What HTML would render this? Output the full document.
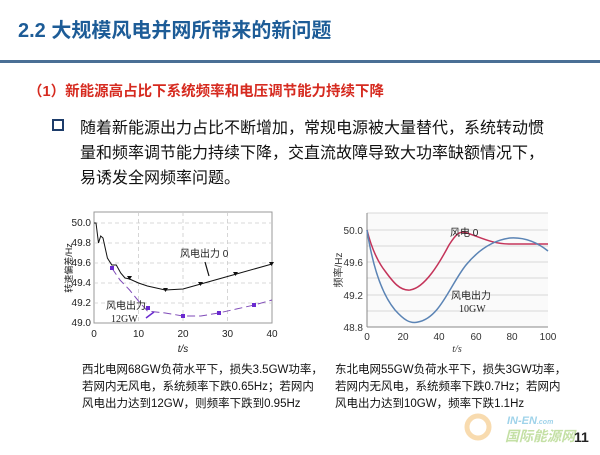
<!DOCTYPE html>
<html><head><meta charset="utf-8"><style>
body{margin:0;width:600px;height:450px;overflow:hidden;background:#fff;font-family:"Liberation Sans","Noto Sans CJK SC",sans-serif;}
svg text{font-family:"Liberation Sans","Noto Sans CJK SC",sans-serif;}
.s{font-family:"Liberation Serif","Noto Serif CJK SC",serif;}
</style></head><body>
<svg width="600" height="450" viewBox="0 0 600 450" xmlns="http://www.w3.org/2000/svg">
<text x="18" y="37" font-size="20" font-weight="bold" fill="#1d5c97">2.2 大规模风电并网所带来的新问题</text>
<rect x="0" y="60" width="600" height="3" fill="#4a6f95"/>
<text x="28" y="96" font-size="14.5" font-weight="bold" fill="#d62a1f">（1）新能源高占比下系统频率和电压调节能力持续下降</text>
<rect x="53" y="120" width="10" height="10" fill="none" stroke="#1d3c6a" stroke-width="2"/>
<g font-size="16" fill="#111">
<text x="80" y="133">随着新能源出力占比不断增加，常规电源被大量替代，系统转动惯</text>
<text x="80" y="158">量和频率调节能力持续下降，交直流故障导致大功率缺额情况下，</text>
<text x="80" y="183">易诱发全网频率问题。</text>
</g>
<!-- left chart -->
<rect x="94" y="212" width="178" height="111" fill="#fff" stroke="#999" stroke-width="1"/>
<g stroke="#ccc" stroke-dasharray="4,3" stroke-width="0.8">
<line x1="94" y1="243" x2="272" y2="243"/><line x1="94" y1="263" x2="272" y2="263"/><line x1="94" y1="283" x2="272" y2="283"/><line x1="94" y1="303" x2="272" y2="303"/><line x1="94" y1="223" x2="272" y2="223"/>
<line x1="138.5" y1="212" x2="138.5" y2="323"/><line x1="183" y1="212" x2="183" y2="323"/><line x1="227.5" y1="212" x2="227.5" y2="323"/>
</g>
<g class="s" font-size="10" fill="#222" text-anchor="end">
<text x="91" y="226">50.0</text><text x="91" y="246">49.8</text><text x="91" y="266">49.6</text><text x="91" y="286">49.4</text><text x="91" y="306">49.2</text><text x="91" y="326">49.0</text>
</g>
<g class="s" font-size="10" fill="#222" text-anchor="middle">
<text x="94" y="337">0</text><text x="138.5" y="337">10</text><text x="183" y="337">20</text><text x="227.5" y="337">30</text><text x="272" y="337">40</text>
<text x="183" y="352" font-style="italic">t/s</text>
</g>
<text transform="translate(72,268) rotate(-90)" font-size="9" fill="#222" text-anchor="middle">转速偏差/Hz</text>
<polyline fill="none" stroke="#111" stroke-width="1" points="94,223 96,223 98.5,243 100.7,236 103,238 107.4,258 111.8,265 116.3,265 120.7,273 125,278 129.6,279 138.5,283 147.4,286 165.2,290 183,289 200.8,284 236.4,274 272,264"/>
<g fill="#111"><path d="M127,276l5,0l-2.5,4z"/><path d="M163,288l5,0l-2.5,4z"/><path d="M198,282l5,0l-2.5,4z"/><path d="M233,272l5,0l-2.5,4z"/><path d="M269,262l5,0l-2.5,4z"/></g>
<polyline fill="none" stroke="#7f4ab8" stroke-width="1" stroke-dasharray="8,4" points="111.8,268 120,280 129.6,290 138.5,301 147.4,311 165.2,313 183,316 200.8,316 218.6,313 236.4,309 254.2,305 272,300"/>
<g fill="#6a2ad0"><rect x="110" y="266" width="4" height="4"/><rect x="146" y="306" width="4" height="4"/><rect x="181" y="314" width="4" height="4"/><rect x="217" y="311" width="4" height="4"/><rect x="252" y="303" width="4" height="4"/></g>
<text x="180" y="257" font-size="10" fill="#222">风电出力 0</text>
<line x1="205" y1="262" x2="209" y2="276" stroke="#111" stroke-width="1.2"/>
<text x="106" y="309" font-size="10" fill="#222">风电出力</text>
<text x="111" y="322" font-size="10" class="s" fill="#222">12GW</text>
<line x1="146" y1="318" x2="154" y2="312" stroke="#6a2ad0" stroke-width="1.5"/>
<!-- right chart -->
<rect x="367" y="213" width="181" height="114" fill="#fafafa"/>
<g stroke="#ccc" stroke-width="0.8">
<line x1="367" y1="230" x2="548" y2="230"/><line x1="367" y1="246" x2="548" y2="246"/><line x1="367" y1="262" x2="548" y2="262"/><line x1="367" y1="278" x2="548" y2="278"/><line x1="367" y1="295" x2="548" y2="295"/><line x1="367" y1="311" x2="548" y2="311"/><line x1="367" y1="213" x2="548" y2="213"/>
</g>
<line x1="367" y1="213" x2="367" y2="327" stroke="#888"/><line x1="367" y1="327" x2="548" y2="327" stroke="#888"/>
<g font-size="10" fill="#333" text-anchor="end">
<text x="363" y="234">50.0</text><text x="363" y="266">49.6</text><text x="363" y="299">49.2</text><text x="363" y="331">48.8</text>
</g>
<g font-size="10" fill="#333" text-anchor="middle">
<text x="367" y="340">0</text><text x="403" y="340">20</text><text x="439" y="340">40</text><text x="476" y="340">60</text><text x="512" y="340">80</text><text x="548" y="340">100</text>
<text x="457" y="352" font-style="italic" class="s">t/s</text>
</g>
<text transform="translate(342,270) rotate(-90)" font-size="10" fill="#333" text-anchor="middle">频率/Hz</text>
<path d="M367,230 C372,250 378,262 385,271 C393,282 400,291 410,290 C425,288 440,262 449,245 C456,234 460,230 467,233 C480,237 492,244 510,244 L548,244" fill="none" stroke="#c4345a" stroke-width="1.5"/>
<path d="M367,230 C372,262 380,292 395,310 C404,320 410,324 418,322 C440,318 450,285 466,265 C480,248 495,240 510,238 C525,237 538,243 548,251" fill="none" stroke="#5b84b5" stroke-width="1.5"/>
<text x="450" y="236" font-size="10" fill="#222">风电 0</text>
<text x="451" y="299" font-size="10" fill="#222">风电出力</text>
<text x="459" y="312" font-size="10" class="s" fill="#222">10GW</text>
<!-- captions -->
<g font-size="11.5" fill="#111">
<text x="82" y="373">西北电网68GW负荷水平下，损失3.5GW功率，</text>
<text x="82" y="390">若网内无风电，系统频率下跌0.65Hz；若网内</text>
<text x="82" y="407">风电出力达到12GW，则频率下跌到0.95Hz</text>
<text x="335" y="373">东北电网55GW负荷水平下，损失3GW功率，</text>
<text x="335" y="390">若网内无风电，系统频率下跌0.7Hz；若网内</text>
<text x="335" y="407">风电出力达到10GW，频率下跌1.1Hz</text>
</g>
<!-- logo -->
<circle cx="478" cy="427" r="11" fill="none" stroke="#f4c37a" stroke-width="5" opacity="0.6"/>
<text x="507" y="424" font-size="11" font-weight="bold" font-style="italic" fill="#9fd3ea">IN-EN<tspan font-size="7">.com</tspan></text>
<text x="505" y="441" font-size="14" font-weight="bold" font-style="italic" fill="#b6d98f" opacity="0.8">国际能源网</text>
<text x="574" y="442" font-size="14" font-weight="bold" fill="#222">11</text>
</svg>
</body></html>
